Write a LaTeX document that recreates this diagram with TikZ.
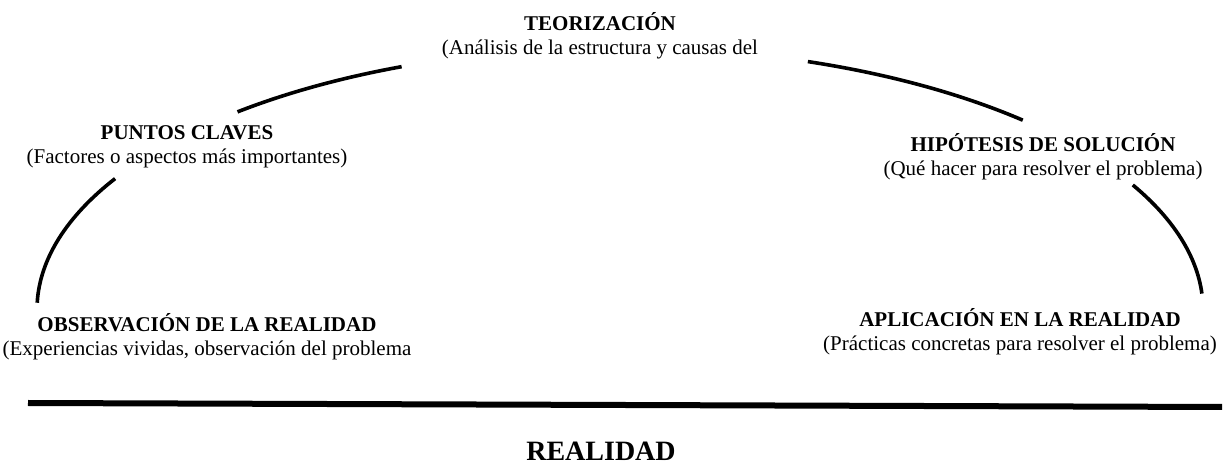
\documentclass[tikz,border=0pt]{standalone}
\usepackage{fontspec}
\setmainfont{Liberation Serif}
\begin{document}
\begin{tikzpicture}[x=1pt,y=1pt,
  lbl/.style={align=center,inner sep=0pt,font=\fontsize{21}{24}\selectfont},
  arcline/.style={line width=3.6pt},
  ground/.style={line width=6pt}]
\useasboundingbox (0,0) rectangle (1228,468);
\coordinate (c) at (620,158.4);
% arcs of the cycle
\draw[arcline] ([shift={(112:583 and 262)}]c) arc[start angle=112,end angle=131,x radius=583,y radius=262];
\draw[arcline] ([shift={(150:583 and 262)}]c) arc[start angle=150,end angle=178.5,x radius=583,y radius=262];
\draw[arcline] ([shift={(71.2:583 and 262)}]c) arc[start angle=71.2,end angle=46.3,x radius=583,y radius=262];
\draw[arcline] ([shift={(28.4:583 and 262)}]c) arc[start angle=28.4,end angle=3.5,x radius=583,y radius=262];
% labels
\node[lbl] (teo) at (600,432) {\textbf{TEORIZACIÓN}\\(Análisis de la estructura y causas del};
\node[lbl] (pun) at (187,321) {\textbf{PUNTOS CLAVES}\\(Factores o aspectos más importantes)};
\node[lbl] (hip) at (1043,311.5) {\textbf{HIPÓTESIS DE SOLUCIÓN}\\(Qué hacer para resolver el problema)};
\node[lbl] (obs) at (207,131.5) {\textbf{OBSERVACIÓN DE LA REALIDAD}\\(Experiencias vividas, observación del problema};
\node[lbl] (apl) at (1020,136) {\textbf{APLICACIÓN EN LA REALIDAD}\\(Prácticas concretas para resolver el problema)};
% ground line
\coordinate (g1) at (28,65);
\coordinate (g2) at (1222,61);
\draw[ground] (g1) -- (g2);
\node[inner sep=0pt,font=\fontsize{28}{32}\selectfont\bfseries] (real) at (601,17) {REALIDAD};
\end{tikzpicture}
\end{document}
